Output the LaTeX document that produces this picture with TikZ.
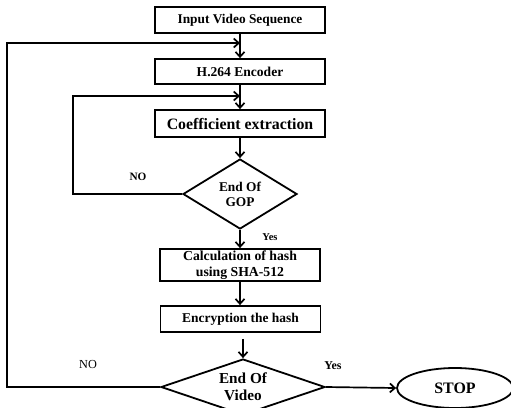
\documentclass[tikz,border=0pt]{standalone}
\usepackage{fontspec}
\setmainfont{Liberation Serif}
\usetikzlibrary{shapes.geometric,arrows.meta}
\begin{document}
\begin{tikzpicture}[x=1bp,y=-1bp,
  box/.style={draw,line width=1.8bp,rectangle,inner sep=0pt,align=center,font=\bfseries},
  dia/.style={draw,line width=1.8bp,diamond,inner sep=0pt,align=center,font=\bfseries,aspect=2},
  arr/.style={line width=1.7bp,-{Straight Barb[length=5bp,width=9bp,line width=1.7bp]}},
  lbl/.style={inner sep=0pt}]
\useasboundingbox (0,0) rectangle (511,407);
\fill[white] (0,0) rectangle (511,407);
\node[box,minimum width=170bp,minimum height=26bp,font=\bfseries\fontsize{13.4}{15}\selectfont] (in) at (240,20) {Input Video Sequence};
\node[box,minimum width=170bp,minimum height=25bp,font=\bfseries\fontsize{13.6}{15}\selectfont] (enc) at (240,71.5) {H.264 Encoder};
\node[box,minimum width=170bp,minimum height=27bp,font=\bfseries\fontsize{15.9}{17}\selectfont] (coef) at (240,123.5) {Coefficient extraction};
\node[dia,minimum width=114bp,minimum height=70bp,aspect=1.6,font=\bfseries\fontsize{13.4}{15}\selectfont] (d1) at (240,194) {End Of\\GOP};
\node[box,minimum width=160bp,minimum height=32bp,font=\bfseries\fontsize{13.8}{16}\selectfont] (hash) at (240,265) {Calculation of hash\\using SHA-512};
\node[box,minimum width=160bp,minimum height=26bp,font=\bfseries\fontsize{13.5}{15}\selectfont] (encr) at (240.5,319) {Encryption the hash};
\node[dia,minimum width=164bp,minimum height=56bp,aspect=3,font=\bfseries\fontsize{15.3}{17}\selectfont] (d2) at (243,387) {End Of\\Video};
\node[ellipse,draw,line width=1.8bp,minimum width=116bp,minimum height=40bp,inner sep=0pt,font=\bfseries\fontsize{16}{18}\selectfont] (stop) at (455,388) {STOP};
\node[lbl,font=\bfseries\fontsize{11.3}{13}\selectfont] (no1) at (138,177) {NO};
\node[lbl,font=\bfseries\fontsize{10.5}{12}\selectfont] (yes1) at (270,237) {Yes};
\node[lbl,font=\fontsize{12.3}{14}\selectfont] (no2) at (88,364) {NO};
\node[lbl,font=\bfseries\fontsize{12}{14}\selectfont] (yes2) at (333,366) {Yes};
\coordinate (j2) at (240,43);
\coordinate (l2) at (7,43);
\coordinate (j1) at (240,96);
\coordinate (l1) at (73,96);
\draw[arr] (in.south) -- (enc.north);
\draw[arr] (enc.south) -- (coef.north);
\draw[arr] (coef.south) -- (d1.north);
\draw[arr] (d1.south) -- (hash.north);
\draw[arr] (hash.south) -- (hash.south |- encr.north);
\draw[arr,shorten <=6bp] (encr.south -| d2.north) -- (d2.north);
\draw[arr] (d2.east) -- (stop.west);
\draw[arr] (d1.west) -| (l1) -- (j1);
\draw[arr] (d2.west) -| (l2) -- (j2);
\end{tikzpicture}
\end{document}
